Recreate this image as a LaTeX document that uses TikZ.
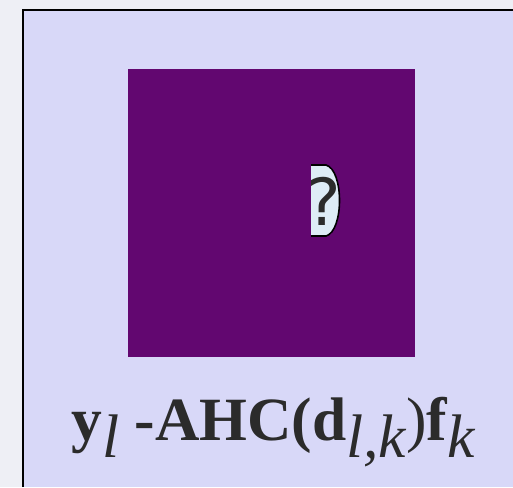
\documentclass[tikz,border=0pt]{standalone}
\usepackage{fontspec}
\setmainfont{Liberation Serif}
\newfontfamily\querysans{DejaVu Sans}
\usetikzlibrary{positioning}
\definecolor{outerbg}{RGB}{238,239,245}
\definecolor{panelbg}{RGB}{216,216,248}
\definecolor{blockpurple}{RGB}{98,7,112}
\definecolor{queryfill}{RGB}{222,236,246}
\definecolor{labelgray}{RGB}{43,43,43}
\newcommand{\subl}[1]{\lower0.28em\hbox{\mdseries\itshape #1}}
\tikzset{every picture/.append style={thick}}

\begin{document}
\begin{tikzpicture}[x=0.02cm, y=-0.02cm]
  % Canvas
  \fill[outerbg] (0,0) rectangle (513,487);
  \useasboundingbox (0,0) rectangle (513,487);

  % Panel (runs off the right and bottom edges)
  \fill[panelbg] (23,10) rectangle (513,487);
  \draw[black, line width=1.2pt] (23,487) -- (23,10) -- (513,10);

  % Purple block
  \fill[blockpurple] (128,69) rectangle (415,357);
  \coordinate (block) at (271.5,213);

  % Query tab
  \fill[queryfill] (311,165) -- (326,165) .. controls (344,170) and (344,231) .. (326,236) -- (311,236) -- cycle;
  \begin{scope}
    \clip (311,165) rectangle (345,236);
    \node[text=labelgray, font=\querysans\fontsize{37}{40}\selectfont, inner sep=0pt] (query) at (323.5,201.5) {?};
  \end{scope}
  \draw[black, line width=0.9pt] (311,165) -- (326,165) .. controls (344,170) and (344,231) .. (326,236) -- (311,236);

  % Label
  \node[text=labelgray, font=\fontsize{35}{40}\selectfont\bfseries, inner sep=0pt, anchor=base] (label) at (273,440)
    {y\subl{l} -AHC(d\subl{l,k}\mdseries)\bfseries f\subl{k}};
\end{tikzpicture}
\end{document}
